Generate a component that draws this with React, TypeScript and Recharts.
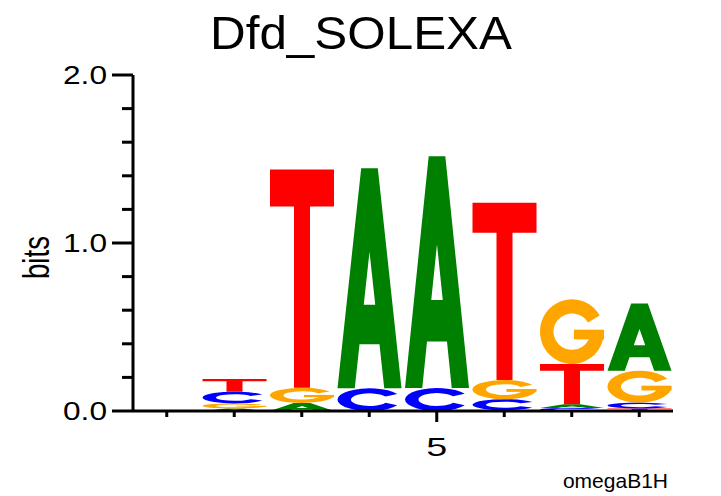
import { Bar, BarChart, XAxis, YAxis } from "recharts";

// information content (bits) per letter at each motif position
const positions = ["1", "2", "3", "4", "5", "6", "7", "8"];
const bitsA = [0, 0.015, 0.048, 1.31, 1.38, 0.005, 0.022, 0.4];
const bitsC = [0, 0.07, 0, 0.135, 0.137, 0.065, 0.018, 0.035];
const bitsG = [0, 0.03, 0.09, 0, 0, 0.115, 0.385, 0.19];
const bitsT = [0, 0.075, 1.3, 0, 0, 1.055, 0.24, 0.015];

const yTicks = [0, 0.2, 0.4, 0.6, 0.8, 1.0, 1.2, 1.4, 1.6, 1.8, 2.0];
const yMajor = [0, 1, 2];
const xLabelled = ["5"];

const FONT = '"Liberation Sans", Arial, Helvetica, sans-serif';

const COLORS: Record<string, string> = { A: "#008000", C: "#0000ff", G: "#ffa500", T: "#ff0000" };

// glyph outlines in a 100x100 box, stretched to each stacked segment
const GLYPHS: Record<string, string[]> = {
  A: ["M0,100 L37,0 L63,0 L100,100 L73,100 L65.6,80 L34.4,80 L27,100 Z M41,62 L59,62 L50,38 Z"],
  C: ["M93.3,25 A50,50 0 1 0 93.3,75 L75.1,64 A29,28 0 1 1 75.1,36 Z"],
  G: ["M93.3,25 A50,50 0 1 0 100,50 L79,50 A29,28 0 1 1 75.1,36 Z", "M53,47 H100 V62 H53 Z"],
  T: ["M0,0 H100 V17 H62.5 V100 H37.5 V17 H0 Z"],
};

const letters = ["A", "C", "G", "T"];
const table = positions.map((pos, i) => {
  const vals = [bitsA[i], bitsC[i], bitsG[i], bitsT[i]];
  const order = letters.map((l, k) => ({ l, v: vals[k] })).sort((a, b) => a.v - b.v);
  const row: Record<string, string | number> = { pos };
  order.forEach((o, k) => {
    row[`s${k}`] = o.v;
    row[`l${k}`] = o.l;
  });
  return row;
});

function letterShape(props: any, rank: number) {
  const { x, y, width, height, payload } = props;
  if (!height || height < 0.3) return <g />;
  const letter = payload[`l${rank}`];
  return (
    <g transform={`translate(${x},${y}) scale(${width / 100},${height / 100})`}>
      {GLYPHS[letter].map((d, k) => (
        <path key={k} d={d} fill={COLORS[letter]} fillRule="evenodd" />
      ))}
    </g>
  );
}

function YTick(props: any) {
  const { x, y, payload } = props;
  const major = yMajor.some((m) => Math.abs(m - payload.value) < 1e-6);
  return (
    <g>
      <line x1={x - (major ? 21 : 11)} x2={x} y1={y} y2={y} stroke="#000" strokeWidth={3} />
      {major && (
        <text x={x - 70} y={y + 9} fontSize={26} textLength={44} lengthAdjust="spacingAndGlyphs" fontFamily={FONT} fill="#000">
          {payload.value.toFixed(1)}
        </text>
      )}
    </g>
  );
}

function XTick(props: any) {
  const { x, y, payload } = props;
  const major = xLabelled.includes(payload.value);
  return (
    <g>
      <line x1={x} x2={x} y1={y} y2={y + (major ? 11 : 6)} stroke="#000" strokeWidth={3} />
      {major && (
        <text x={x - 10.5} y={y + 45} fontSize={26} textLength={21} lengthAdjust="spacingAndGlyphs" fontFamily={FONT} fill="#000">
          {payload.value}
        </text>
      )}
    </g>
  );
}

export default function App() {
  return (
    <div style={{ position: "absolute", left: 0, top: 0, width: 721, height: 496, background: "#fff" }}>
      <BarChart width={721} height={496} data={table} margin={{ top: 75, right: 48, bottom: 0, left: 0 }} barCategoryGap={2}>
        <XAxis dataKey="pos" height={85} interval={0} tickSize={0} tickMargin={0} tickLine={false} axisLine={{ stroke: "#000", strokeWidth: 3 }} tick={<XTick />} />
        <YAxis type="number" domain={[0, 2]} ticks={yTicks} interval={0} width={133} tickSize={0} tickMargin={0} tickLine={false} axisLine={{ stroke: "#000", strokeWidth: 3 }} tick={<YTick />} />
        {[0, 1, 2, 3].map((rank) => (
          <Bar key={rank} dataKey={`s${rank}`} stackId="logo" isAnimationActive={false} shape={(p: any) => letterShape(p, rank)} />
        ))}
      </BarChart>
      <svg width={721} height={496} style={{ position: "absolute", left: 0, top: 0, pointerEvents: "none" }}>
        <text x={210} y={49} fontSize={47} textLength={302} lengthAdjust="spacingAndGlyphs" fontFamily={FONT} fill="#000">
          Dfd_SOLEXA
        </text>
        <text transform="translate(49,279) rotate(-90)" fontSize={37} textLength={43} lengthAdjust="spacingAndGlyphs" fontFamily={FONT} fill="#000">
          bits
        </text>
        <text x={668} y={488} textAnchor="end" fontSize={21} fontFamily={FONT} fill="#000">
          omegaB1H
        </text>
      </svg>
    </div>
  );
}
